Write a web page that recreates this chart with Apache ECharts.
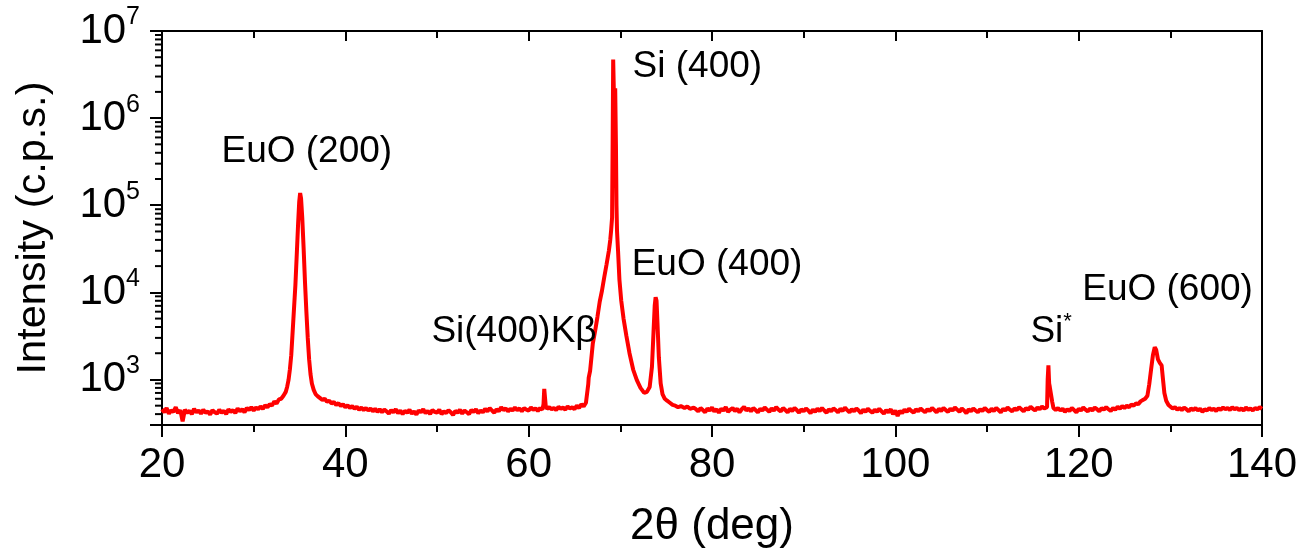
<!DOCTYPE html>
<html><head><meta charset="utf-8">
<script src="https://cdn.jsdelivr.net/npm/echarts@6/dist/echarts.min.js"></script>
<style>html,body{margin:0;padding:0;background:#fff}#c{width:1315px;height:556px}</style>
</head><body><div id="c"></div>
<script>
// ---------- DATA ----------
const STEP = 0.25;
// background segments: start angle + intensities every STEP degrees
const bgAStart = 20.0;
const bgA = [455,420,470,405,440,425,480,410,445,330,
             450,415,435,400,460,420,440,405,450,415,
             430,395,445,420,405,450,415,435,400,455,
             425,445,410,465,430,455,420,470,445,480,
             440,475,455,490,460,505,480,520,500,560,
             530,590,600,650,720];
const peak200X = [33.65,33.80,33.95,34.10,34.25,34.40,34.55,34.70,34.85,34.97,35.07,35.17,35.30,35.45,35.60,35.75,35.90,36.05,36.20,36.35,36.55,36.75,37.00];
const peak200Y = [820,980,1300,1900,3500,6500,12000,27000,62000,110000,138000,120000,72000,32000,13000,6000,3000,1700,1150,900,760,680,640];
const bgBStart = 37.25;
const bgB = [610,580,600,555,570,530,550,510,535,495,
             520,480,505,470,495,460,485,450,475,445,
             470,440,465,430,460,425,455,420,450,430,
             405,445,420,455,410,440,400,435,415,450,
             405,430,395,440,420,455,410,435,400,445,
             425,415,450,400,430,410,445,420,390,435,
             415,450,405,440,420,400,445,425,455,410,
             440,420,460,430,470,440,415,455,430,480,
             445,465,430,460,440,475,445,465,430,470,
             450,440,475,450,465,435,470,450];
const kbX = [61.62,61.70,61.78,61.86];
const kbY = [520,780,760,500];
const bgCStart = 62.0;
const bgC = [460,480,455,470,445,485,460,475,450,490,465,480,455,500,470,520,490,540];
const peakSiX = [66.40,66.50,66.55,66.70,66.85,67.00,67.25,67.50,67.75,68.00,68.25,68.50,68.75,68.90,69.00,
                 69.10,69.16,69.22,69.32,69.44,69.52,69.58,69.64,69.75,69.90,70.10,70.35,70.65,71.00,71.40,
                 71.80,72.20,72.60,72.90,73.20,73.45,73.62,73.75,73.85,73.95,74.05,74.20,74.40,74.60,74.85,
                 75.10,75.40,75.70,76.00,76.30,76.60,77.00,77.30,77.60,78.00];
const peakSiY = [560,880,1050,1250,1800,2600,3600,5200,7800,10500,15000,21000,30000,40000,52000,
                 72000,500000,4700000,1500000,2200000,500000,100000,50000,30000,14000,8000,5000,3200,2000,1300,
                 980,800,700,720,820,1400,3500,7000,8800,8000,4500,1800,900,680,600,
                 570,540,510,500,480,495,470,490,460,475];
const bgDStart = 78.25;
const bgD = [455,430,470,445,420,465,440,475,430,455,
             415,460,440,480,425,450,470,435,460,420,
             455,485,440,465,430,470,445,420,460,440,
             475,450,425,465,440,480,450,430,470,445,
             420,460,435,470,445,415,455,430,465,440,
             410,450,425,460,435,470,440,415,455,430,
             465,445,420,460,435,475,445,420,455,430,
             465,440,410,450,425,460,435,415,450,425,
             460,430,405,445,420,455,400,440,380,435,
             410,450,425,460,435,415,455,430,465,440,
             420,455,435,470,445,420,460,435,470,445,
             425,460,440,475,450,425,465,440,410,455,
             430,465,440,420,455,435,470,445,425,460,
             435,470,445,420,460,440,475,450,430,465,
             445,480,455,430,470,450,485,460,440,475,
             455,490,465];
const siStarX = [116.45,116.55,116.62,116.70,116.78,116.85,116.95,117.05,117.12,117.25];
const siStarY = [470,480,1000,1450,900,820,830,800,550,470];
const bgEStart = 117.5;
const bgE = [445,470,440,460,425,455,435,470,445,420,
             460,440,475,450,430,465,440,475,455,430,
             470,450,480,455,435,470,450,485,460,495,
             470,500,480,515,500,530,520,560,580];
const peak600X = [127.25,127.50,127.70,127.90,128.10,128.30,128.45,128.65,128.85,129.05,129.20,129.35,129.55,129.80];
const peak600Y = [600,650,880,1300,1900,2350,2200,1700,1550,1450,1000,700,570,510];
const bgFStart = 130.0;
const bgF = [490,465,480,450,470,445,475,455,430,465,
             445,470,440,460,425,455,440,470,445,460,
             435,465,450,475,455,470,445,480,455,470,
             445,465,440,475,450,465,440,470,455,480,
             460];
// peak annotations
const annText = ['EuO (200)', 'Si (400)', 'Si(400)K\u03b2', 'EuO (400)', '{a|Si}{s|*}', 'EuO (600)'];
const annX = [35.8, 78.4, 58.4, 80.55, 117.0, 129.7];
const annY = [4.1e5, 3.9e6, 3500, 2.06e4, 3500, 1.07e4];

// ---------- BUILD ----------
const data = [];
function addSeg(start, vals){ vals.forEach((v,i)=>data.push([+(start+i*STEP).toFixed(2), v])); }
function addPairs(xs, ys){ xs.forEach((x,i)=>data.push([x, ys[i]])); }
addSeg(bgAStart, bgA); addPairs(peak200X, peak200Y);
addSeg(bgBStart, bgB); addPairs(kbX, kbY);
addSeg(bgCStart, bgC); addPairs(peakSiX, peakSiY);
addSeg(bgDStart, bgD); addPairs(siStarX, siStarY);
addSeg(bgEStart, bgE); addPairs(peak600X, peak600Y);
addSeg(bgFStart, bgF);

const YMIN = 300, YMAX = 1e7, XMIN = 20, XMAX = 140;
const minorY = [];
for (let d = 2; d <= 6; d++) for (let k = 2; k <= 9; k++) { const v = k * Math.pow(10, d); if (v >= YMIN && v <= YMAX) minorY.push([XMIN, v]); }

const FF = '"Liberation Sans", Arial, sans-serif';
const black = '#000';
const chart = echarts.init(document.getElementById('c'));
chart.setOption({
  animation: false,
  backgroundColor: '#fff',
  grid: { left: 162, right: 53, top: 31, bottom: 131, containLabel: false },
  xAxis: [{
    type: 'value', min: XMIN, max: XMAX, interval: 20, position: 'bottom',
    axisLine: { show: true, onZero: false, lineStyle: { color: black, width: 2 } },
    axisTick: { show: true, inside: false, length: 12, lineStyle: { color: black, width: 2 } },
    minorTick: { show: true, splitNumber: 2, length: 7, lineStyle: { color: black, width: 2 } },
    splitLine: { show: false },
    axisLabel: { fontSize: 42, color: black, fontFamily: FF, margin: 19 },
    name: '2\u03b8 (deg)', nameLocation: 'middle', nameGap: 80,
    nameTextStyle: { fontSize: 44, color: black, fontFamily: FF }
  }, {
    type: 'value', min: XMIN, max: XMAX, interval: 20, position: 'top',
    axisLine: { show: true, onZero: false, lineStyle: { color: black, width: 2 } },
    axisTick: { show: true, inside: true, length: 10, lineStyle: { color: black, width: 2 } },
    minorTick: { show: true, splitNumber: 2, length: 7, lineStyle: { color: black, width: 2 } },
    splitLine: { show: false }, axisLabel: { show: false }
  }],
  yAxis: [{
    type: 'log', logBase: 10, min: YMIN, max: YMAX, position: 'left',
    axisLine: { show: true, onZero: false, lineStyle: { color: black, width: 2 } },
    axisTick: { show: true, inside: false, length: 12, lineStyle: { color: black, width: 2 } },
    splitLine: { show: false },
    axisLabel: {
      margin: 22, color: black, fontFamily: FF,
      formatter: function (v) {
        const l = Math.log10(v), e = Math.round(l);
        if (Math.abs(l - e) > 1e-6) return '';
        return '{b|10}{s|' + e + '}';
      },
      rich: {
        b: { fontSize: 42, lineHeight: 52, color: black, fontFamily: FF, verticalAlign: 'middle' },
        s: { fontSize: 25, lineHeight: 25, color: black, fontFamily: FF, verticalAlign: 'top' }
      }
    },
    name: 'Intensity (c.p.s.)', nameLocation: 'middle', nameGap: 107,
    nameTextStyle: { fontSize: 41.5, color: black, fontFamily: FF }
  }, {
    type: 'log', logBase: 10, min: YMIN, max: YMAX, position: 'right',
    axisLine: { show: true, onZero: false, lineStyle: { color: black, width: 2 } },
    axisTick: { show: false }, axisLabel: { show: false }, splitLine: { show: false }
  }],
  series: [{
    type: 'line', xAxisIndex: 0, yAxisIndex: 0, data: data,
    symbol: 'none', showSymbol: false, clip: true,
    lineStyle: { color: '#ff0000', width: 4 }, z: 3
  }, {
    type: 'custom', xAxisIndex: 0, yAxisIndex: 0, data: minorY, silent: true, clip: false, z: 4,
    renderItem: function (params, api) {
      const p = api.coord([api.value(0), api.value(1)]);
      return { type: 'line', shape: { x1: p[0] - 7, y1: p[1], x2: p[0], y2: p[1] },
               style: { stroke: black, lineWidth: 2 } };
    }
  }, {
    type: 'custom', xAxisIndex: 0, yAxisIndex: 0, silent: true, clip: false, z: 5,
    data: annText.map((t, i) => [annX[i], annY[i], i]),
    renderItem: function (params, api) {
      const p = api.coord([api.value(0), api.value(1)]);
      const t = annText[api.value(2)];
      return { type: 'text', x: p[0], y: p[1],
        style: { text: t, fill: black, fontSize: 37, fontFamily: FF, align: 'center', verticalAlign: 'middle',
          rich: {
            a: { fontSize: 37, lineHeight: 42, fill: black, fontFamily: FF, verticalAlign: 'middle' },
            s: { fontSize: 22, lineHeight: 22, fill: black, fontFamily: FF, verticalAlign: 'top' }
          } } };
    }
  }]
});
</script></body></html>
